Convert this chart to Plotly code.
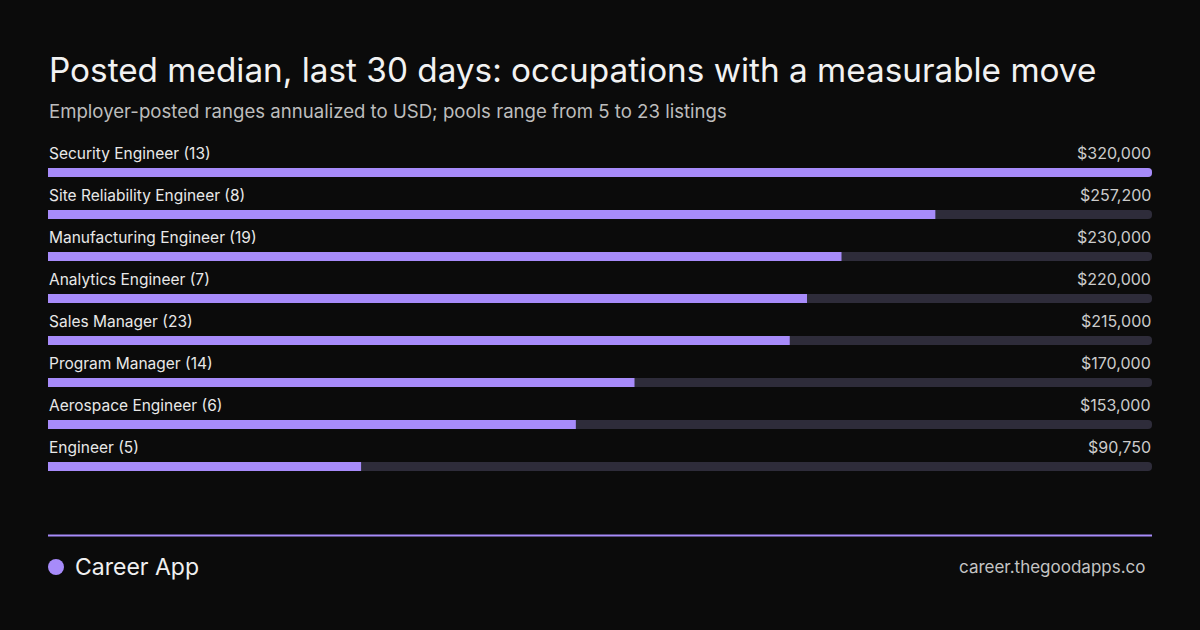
import plotly.graph_objects as go

categories = ["Security Engineer", "Site Reliability Engineer", "Manufacturing Engineer",
              "Analytics Engineer", "Sales Manager", "Program Manager",
              "Aerospace Engineer", "Engineer"]
listings = [13, 8, 19, 7, 23, 14, 6, 5]
medians = [320000, 257200, 230000, 220000, 215000, 170000, 153000, 90750]
axis_max = 320000

W, H = 1200, 630
BG = "#0b0b0b"
PURPLE = "#a78bfa"
TRACK = "#2e2c3a"
FONT = "Inter"

rows = list(range(len(categories)))
row0_px, pitch = 172.5, 42.0
y_top = -row0_px / pitch
y_bot = (H - row0_px) / pitch
bar_w = 9 / pitch

fig = go.Figure()
fig.add_trace(go.Bar(
    x=[axis_max] * len(rows), y=rows, orientation="h", width=bar_w,
    marker=dict(color=TRACK, cornerradius=4, line_width=0),
    hoverinfo="skip", showlegend=False))
fig.add_trace(go.Bar(
    x=medians, y=rows, orientation="h", width=bar_w,
    marker=dict(color=PURPLE, cornerradius=4, line_width=0),
    hoverinfo="skip", showlegend=False))

for i, (c, n, v) in enumerate(zip(categories, listings, medians)):
    fig.add_annotation(x=0, y=i, xref="x", yref="y", text=f"{c} ({n})",
                       xanchor="left", yanchor="middle", yshift=19.5, xshift=-1,
                       showarrow=False, font=dict(family=FONT, size=15.5, color="#e8e8e8"))
    fig.add_annotation(x=axis_max, y=i, xref="x", yref="y", text=f"${v:,}",
                       xanchor="right", yanchor="middle", yshift=19.5, xshift=1,
                       showarrow=False, font=dict(family=FONT, size=16, color="#cccccc"))

def px(x):
    return x / W

def py(y):
    return 1 - y / H

fig.add_annotation(x=px(47), y=py(70), xref="paper", yref="paper",
                   text="Posted median, last 30 days: occupations with a measurable move",
                   xanchor="left", yanchor="middle", showarrow=False,
                   font=dict(family=FONT, size=33.3, color="#f2f2f2"))
fig.add_annotation(x=px(47), y=py(111), xref="paper", yref="paper",
                   text="Employer-posted ranges annualized to USD; pools range from 5 to 23 listings",
                   xanchor="left", yanchor="middle", showarrow=False,
                   font=dict(family=FONT, size=18.6, color="#bdbdbd"))

fig.add_shape(type="line", xref="paper", yref="paper", x0=px(48), x1=px(1152),
              y0=py(535.5), y1=py(535.5), line=dict(color=PURPLE, width=2))
fig.add_shape(type="circle", xref="paper", yref="paper", x0=px(48), x1=px(64),
              y0=py(575), y1=py(559), fillcolor=PURPLE, line_width=0)
fig.add_annotation(x=px(73), y=py(567), xref="paper", yref="paper", text="Career App",
                   xanchor="left", yanchor="middle", showarrow=False,
                   font=dict(family=FONT, size=23, color="#f0f0f0"))
fig.add_annotation(x=px(1148), y=py(567), xref="paper", yref="paper",
                   text="career.thegoodapps.co",
                   xanchor="right", yanchor="middle", showarrow=False,
                   font=dict(family=FONT, size=17, color="#c4c4c4"))

fig.update_layout(
    width=W, height=H, margin=dict(l=0, r=0, t=0, b=0),
    paper_bgcolor=BG, plot_bgcolor=BG, barmode="overlay",
    xaxis=dict(domain=[px(48), px(1152)], range=[0, axis_max], visible=False, fixedrange=True),
    yaxis=dict(domain=[0, 1], range=[y_bot, y_top], visible=False, fixedrange=True),
)

fig.write_html(
    "out.html",
    config={"displayModeBar": False},
    post_script="document.body.style.margin='0';document.body.style.background='#0b0b0b';"
                "document.body.style.overflow='hidden';",
)
